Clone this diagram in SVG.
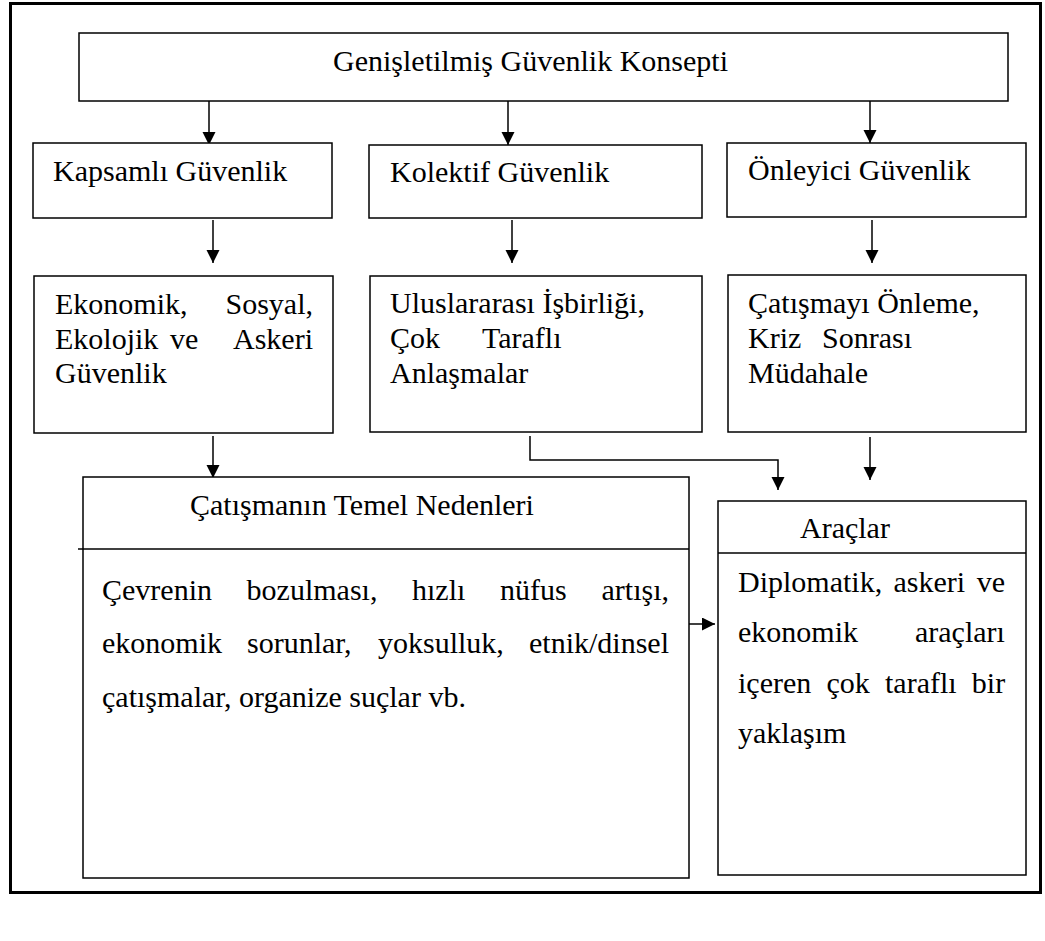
<svg xmlns="http://www.w3.org/2000/svg" width="1045" height="941" viewBox="0 0 1045 941">
<style>
text{font-family:"Liberation Serif","Times New Roman",serif;font-size:30px;fill:#000}
.box{fill:#fff;stroke:#000;stroke-width:1.5}
.div{stroke:#000;stroke-width:1.5;fill:none}
.con{stroke:#000;stroke-width:1.5;fill:none;marker-end:url(#ah)}
</style>
<defs>
<marker id="ah" markerUnits="userSpaceOnUse" markerWidth="14" markerHeight="14" refX="13" refY="6.5" orient="auto">
<path d="M0,0 L13,6.5 L0,13 Z" fill="#000"/>
</marker>
</defs>
<rect x="0" y="0" width="1045" height="941" fill="#fff"/>
<rect x="10.5" y="3.5" width="1030" height="889" fill="none" stroke="#000" stroke-width="3"/>

<g id="connectors">
<line class="con" x1="209" y1="101" x2="209" y2="145"/>
<line class="con" x1="508" y1="101" x2="508" y2="145"/>
<line class="con" x1="870" y1="101" x2="870" y2="143"/>
<line class="con" x1="213" y1="220" x2="213" y2="263"/>
<line class="con" x1="512" y1="220" x2="512" y2="263"/>
<line class="con" x1="872" y1="220" x2="872" y2="263"/>
<line class="con" x1="213" y1="436" x2="213" y2="478"/>
<polyline class="con" points="530,436 530,460 778,460 778,490"/>
<line class="con" x1="870" y1="437" x2="870" y2="480"/>
<line class="con" x1="689" y1="624" x2="715" y2="624"/>
</g>

<g id="n-top">
<rect class="box" x="79" y="33" width="929" height="68"/>
<text x="333" y="71">Genişletilmiş Güvenlik Konsepti</text>
</g>

<g id="n-kapsamli">
<rect class="box" x="33" y="143" width="299" height="75"/>
<text x="53" y="181">Kapsamlı Güvenlik</text>
</g>

<g id="n-kolektif">
<rect class="box" x="369" y="145" width="333" height="73"/>
<text x="390" y="182">Kolektif Güvenlik</text>
</g>

<g id="n-onleyici">
<rect class="box" x="727" y="143" width="299" height="74"/>
<text x="748" y="180">Önleyici Güvenlik</text>
</g>

<g id="n-ekonomik">
<rect class="box" x="34" y="276" width="299" height="157"/>
<text y="314"><tspan x="55">Ekonomik,</tspan><tspan x="225.5">Sosyal,</tspan></text>
<text y="349"><tspan x="55">Ekolojik</tspan><tspan x="170">ve</tspan><tspan x="233">Askeri</tspan></text>
<text x="55" y="383">Güvenlik</text>
</g>

<g id="n-uluslararasi">
<rect class="box" x="370" y="276" width="332" height="156"/>
<text x="390" y="313">Uluslararası İşbirliği,</text>
<text y="348"><tspan x="390">Çok</tspan><tspan x="482">Taraflı</tspan></text>
<text x="390" y="383">Anlaşmalar</text>
</g>

<g id="n-catismayi">
<rect class="box" x="728" y="275" width="298" height="157"/>
<text x="748" y="313">Çatışmayı Önleme,</text>
<text y="348"><tspan x="748">Kriz</tspan><tspan x="822">Sonrası</tspan></text>
<text x="748" y="383">Müdahale</text>
</g>

<g id="n-nedenler">
<rect class="box" x="83" y="477" width="606" height="401"/>
<line class="div" x1="78" y1="549" x2="689" y2="549"/>
<text x="190" y="515">Çatışmanın Temel Nedenleri</text>
<text y="600"><tspan x="102">Çevrenin</tspan><tspan x="246.6">bozulması,</tspan><tspan x="412">hızlı</tspan><tspan x="500">nüfus</tspan><tspan x="601.5">artışı,</tspan></text>
<text y="653"><tspan x="102">ekonomik</tspan><tspan x="247">sorunlar,</tspan><tspan x="378">yoksulluk,</tspan><tspan x="529">etnik/dinsel</tspan></text>
<text x="102" y="707">çatışmalar, organize suçlar vb.</text>
</g>

<g id="n-araclar">
<rect class="box" x="718" y="501" width="308" height="374"/>
<line class="div" x1="718" y1="553" x2="1026" y2="553"/>
<text x="800" y="538">Araçlar</text>
<text y="592"><tspan x="738">Diplomatik,</tspan><tspan x="893.5">askeri</tspan><tspan x="976.7">ve</tspan></text>
<text y="642"><tspan x="738">ekonomik</tspan><tspan x="915">araçları</tspan></text>
<text y="693"><tspan x="738">içeren</tspan><tspan x="826.5">çok</tspan><tspan x="885">taraflı</tspan><tspan x="971.8">bir</tspan></text>
<text x="738" y="743">yaklaşım</text>
</g>
</svg>
